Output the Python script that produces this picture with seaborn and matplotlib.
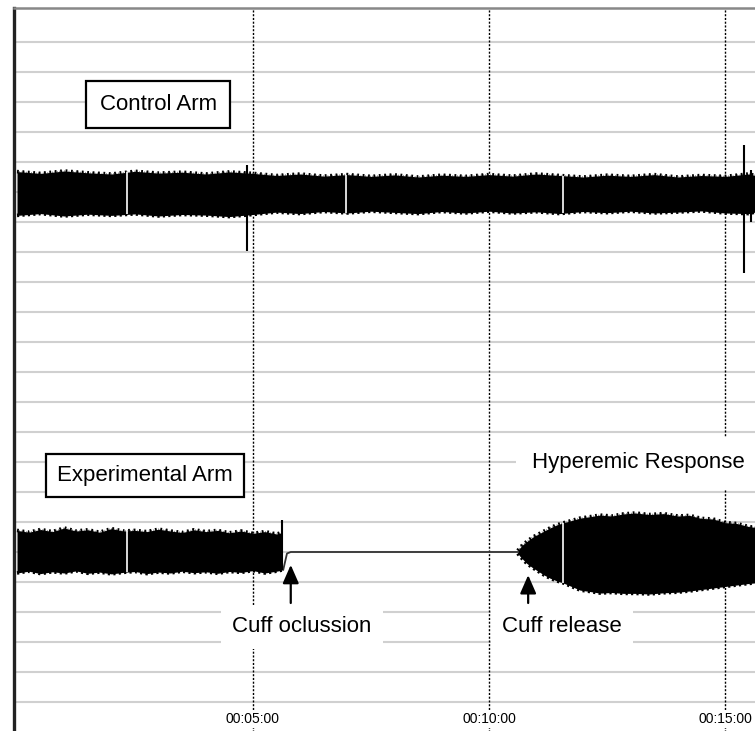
import numpy as np
import matplotlib
matplotlib.use('Agg')
import matplotlib.pyplot as plt
import seaborn as sns

sns.set_style('white')
plt.rcParams['font.family'] = ['Liberation Sans', 'DejaVu Sans']
plt.rcParams['text.color'] = 'black'

# Control arm envelope (time in minutes, amplitude in grid units)
ctrl_t = [0.0, 0.5, 1.0, 1.5, 2.0, 2.5, 3.0, 3.5, 4.0, 4.5, 5.0,
          5.5, 6.0, 6.5, 7.0, 7.5, 8.0, 8.5, 9.0, 9.5, 10.0,
          10.5, 11.0, 11.5, 12.0, 12.5, 13.0, 13.5, 14.0, 14.5, 15.0,
          15.5, 15.64]
ctrl_top = [18.68, 18.62, 18.70, 18.64, 18.60, 18.69, 18.63, 18.66, 18.60, 18.67, 18.62,
            18.55, 18.60, 18.53, 18.58, 18.52, 18.57, 18.50, 18.56, 18.52, 18.58,
            18.53, 18.60, 18.55, 18.50, 18.56, 18.52, 18.58, 18.50, 18.55, 18.52,
            18.60, 18.55]
ctrl_bot = [17.22, 17.28, 17.20, 17.26, 17.22, 17.27, 17.20, 17.25, 17.23, 17.18, 17.25,
            17.33, 17.28, 17.35, 17.30, 17.36, 17.32, 17.28, 17.35, 17.30, 17.36,
            17.30, 17.34, 17.28, 17.35, 17.31, 17.36, 17.30, 17.33, 17.37, 17.30,
            17.28, 17.33]

# Experimental arm before cuff occlusion
exp_t = [0.0, 0.25, 0.5, 0.75, 1.0, 1.25, 1.5, 1.75, 2.0, 2.25, 2.5,
         2.75, 3.0, 3.25, 3.5, 3.75, 4.0, 4.25, 4.5, 4.75, 5.0,
         5.25, 5.5, 5.62]
exp_top = [6.72, 6.66, 6.75, 6.68, 6.80, 6.70, 6.74, 6.66, 6.78, 6.70, 6.72,
           6.68, 6.76, 6.70, 6.65, 6.74, 6.68, 6.72, 6.64, 6.70, 6.62,
           6.68, 6.60, 6.65]
exp_bot = [5.30, 5.36, 5.28, 5.34, 5.30, 5.37, 5.29, 5.33, 5.27, 5.32, 5.35,
           5.28, 5.33, 5.30, 5.36, 5.31, 5.34, 5.29, 5.35, 5.32, 5.38,
           5.30, 5.36, 5.40]

# Occluded (flat) trace
flat_t = [5.64, 5.72, 5.80, 10.61]
flat_y = [5.40, 5.95, 6.00, 6.00]

# Hyperemic response after cuff release
hyp_t = [10.61, 10.66, 10.72, 10.80, 10.93, 11.05, 11.17, 11.29, 11.43, 11.57, 11.75,
         11.93, 12.15, 12.35, 12.60, 12.85, 13.10, 13.40, 13.70, 14.00, 14.25,
         14.50, 14.75, 15.00, 15.25, 15.50, 15.64]
hyp_top = [6.05, 6.15, 6.25, 6.35, 6.50, 6.60, 6.70, 6.80, 6.90, 6.97, 7.05,
           7.13, 7.18, 7.23, 7.20, 7.27, 7.30, 7.25, 7.28, 7.20, 7.22,
           7.12, 7.10, 6.98, 6.95, 6.85, 6.82]
hyp_bot = [5.95, 5.85, 5.75, 5.62, 5.47, 5.35, 5.23, 5.13, 5.04, 4.97, 4.85,
           4.73, 4.68, 4.63, 4.65, 4.62, 4.62, 4.60, 4.64, 4.66, 4.70,
           4.75, 4.80, 4.85, 4.90, 4.95, 4.97]

# Artefact spikes
spike_t = [4.87, 15.40, 15.55, 5.62]
spike_lo = [16.03, 15.30, 17.00, 5.40]
spike_hi = [18.90, 19.57, 18.73, 7.07]

# Signal dropouts (white lines)
ctrl_gaps = [2.33, 6.97, 11.57]
exp_gaps = [2.33, 11.57]

tick_pos = [5, 10, 15]
tick_labels = ['00:05:00', '00:10:00', '00:15:00']

fig = plt.figure(figsize=(7.55, 7.31), dpi=100)
ax = fig.add_axes([14 / 755, -1 / 731, 741 / 755, 724 / 731])
ax.set_xlim(-0.0636, 15.636)
ax.set_ylim(0, 24.133)

# horizontal grid
for g in range(1, 24):
    ax.axhline(g, color='#d0d0d0', lw=1.5, zorder=0.5)
# dotted time markers
for t in tick_pos:
    ax.axvline(t, color='black', lw=1.0, ls=(0, (1.5, 1.2)), zorder=1)

# bands
for tt, top, bot in [(ctrl_t, ctrl_top, ctrl_bot), (exp_t, exp_top, exp_bot), (hyp_t, hyp_top, hyp_bot)]:
    ax.fill_between(tt, bot, top, color='black', lw=0, zorder=2)
    # fuzzy, hairy edge of the dense trace
    sns.lineplot(x=tt, y=top, ax=ax, color='black', lw=2.6, dashes=False, zorder=2)
    sns.lineplot(x=tt, y=bot, ax=ax, color='black', lw=2.6, zorder=2)
    ax.lines[-1].set_linestyle((0, (0.6, 0.9)))
    ax.lines[-2].set_linestyle((0, (0.5, 1.0)))
    sns.lineplot(x=tt, y=top, ax=ax, color='#555555', lw=1.0, zorder=1.9)
    ax.lines[-1].set_linestyle((0, (0.4, 1.3)))
sns.lineplot(x=flat_t, y=flat_y, ax=ax, color='#333333', lw=1.3, zorder=2)

# dropouts
ax.vlines(ctrl_gaps, np.interp(ctrl_gaps, ctrl_t, ctrl_bot), np.interp(ctrl_gaps, ctrl_t, ctrl_top),
          color='white', lw=1.2, zorder=2.5)
exp_all_t = exp_t + hyp_t
ax.vlines(exp_gaps, np.interp(exp_gaps, exp_all_t, exp_bot + hyp_bot),
          np.interp(exp_gaps, exp_all_t, exp_top + hyp_top), color='white', lw=1.2, zorder=2.5)
ax.vlines(spike_t, spike_lo, spike_hi, color='black', lw=1.5, zorder=2.6)

# labels
box_style = dict(boxstyle='square,pad=0.6', fc='white', ec='black', lw=1.6)
ax.text(2.99, 20.92, 'Control Arm', fontsize=16, ha='center', va='center', bbox=box_style, zorder=5)
box_style2 = dict(boxstyle='square,pad=0.5', fc='white', ec='black', lw=1.6)
ax.text(2.71, 8.55, 'Experimental Arm', fontsize=16, ha='center', va='center', bbox=box_style2, zorder=5)
ax.text(13.16, 8.97, 'Hyperemic Response', fontsize=16, ha='center', va='center',
        bbox=dict(boxstyle='square,pad=0.7', fc='white', ec='none'), zorder=5)
ax.text(6.04, 3.5, 'Cuff oclussion', fontsize=16, ha='center', va='center',
        bbox=dict(boxstyle='square,pad=0.5', fc='white', ec='none'), zorder=5)
ax.text(11.55, 3.5, 'Cuff release', fontsize=16, ha='center', va='center',
        bbox=dict(boxstyle='square,pad=0.5', fc='white', ec='none'), zorder=5)

arrow = dict(arrowstyle='-|>,head_length=0.8,head_width=0.35', mutation_scale=14,
             color='black', lw=1.6, shrinkA=0, shrinkB=0)
ax.annotate('', xy=(5.8, 5.57), xytext=(5.8, 4.3), arrowprops=arrow, zorder=6)
ax.annotate('', xy=(10.83, 5.23), xytext=(10.83, 4.3), arrowprops=arrow, zorder=6)

# time labels inside the plot
ax.set_xticks([])
ax.set_yticks([])
for t, lab in zip(tick_pos, tick_labels):
    ax.text(t, 0.42, lab, fontsize=10, ha='center', va='center', color='black',
            bbox=dict(boxstyle='square,pad=0.1', fc='white', ec='none'), zorder=5)

for s in ['right', 'bottom']:
    ax.spines[s].set_visible(False)
ax.spines['left'].set_color('#222222')
ax.spines['left'].set_linewidth(2.4)
ax.spines['top'].set_color('#888888')
ax.spines['top'].set_linewidth(1.8)

fig.savefig('out.png', dpi=100)
